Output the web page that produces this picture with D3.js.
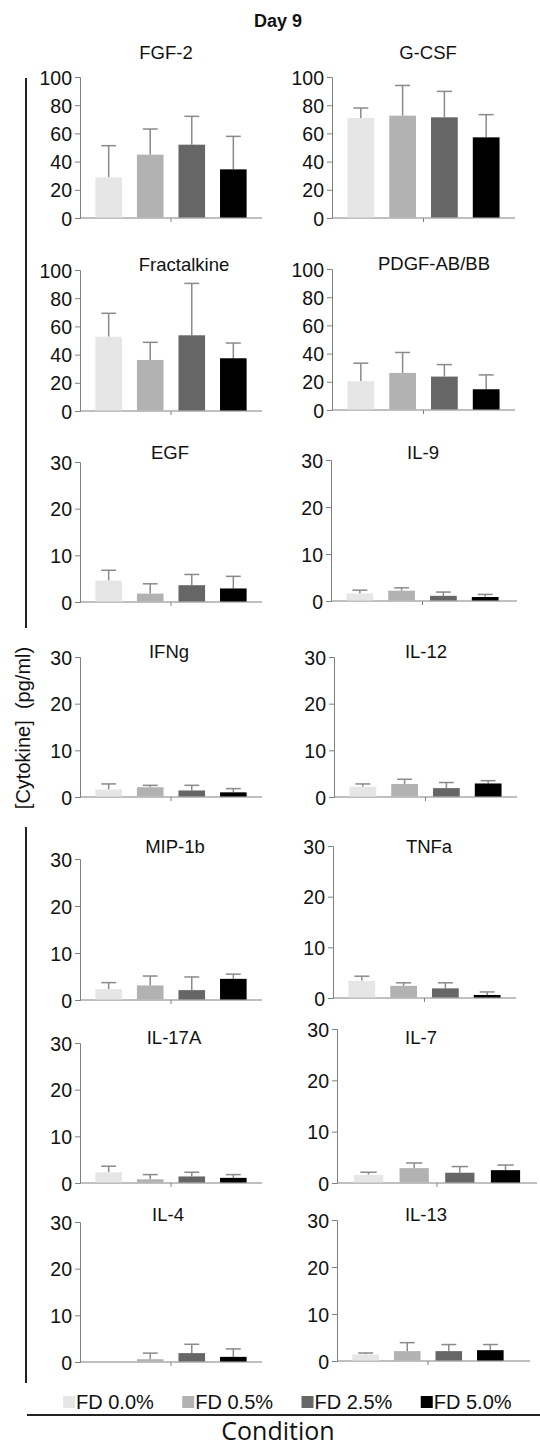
<!DOCTYPE html>
<html>
<head>
<meta charset="utf-8">
<script src="https://cdn.jsdelivr.net/npm/d3@7"></script>
<style>
  body { margin: 0; background: #fff; }
  text { font-family: "Liberation Sans", Arial, sans-serif; fill: #111; }
</style>
</head>
<body>
<div id="chart"></div>
<script>
// values (pg/ml), bar height and upper error bar length
const conditions = ["FD 0.0%", "FD 0.5%", "FD 2.5%", "FD 5.0%"];
const cytokines = ["FGF-2", "G-CSF", "Fractalkine", "PDGF-AB/BB", "EGF", "IL-9", "IFNg",
  "IL-12", "MIP-1b", "TNFa", "IL-17A", "IL-7", "IL-4", "IL-13"];
const means = [
  [28.8, 44.9, 52.0, 34.5],
  [70.9, 72.6, 71.4, 57.2],
  [52.7, 36.2, 53.7, 37.4],
  [20.4, 26.3, 23.7, 14.7],
  [4.6, 1.8, 3.6, 2.9],
  [1.6, 2.2, 1.1, 0.85],
  [1.6, 2.1, 1.4, 1.0],
  [2.2, 2.8, 1.9, 2.9],
  [2.3, 3.1, 2.1, 4.5],
  [3.4, 2.4, 1.9, 0.6],
  [2.3, 0.8, 1.4, 1.1],
  [1.6, 2.9, 2.0, 2.5],
  [0, 0.6, 1.9, 1.1],
  [1.4, 2.1, 2.1, 2.3]
];
const errors = [
  [22.5, 18.2, 20.1, 23.4],
  [7.1, 21.4, 18.4, 16.1],
  [16.6, 12.5, 36.8, 10.8],
  [12.8, 14.5, 8.5, 10.2],
  [2.2, 2.1, 2.3, 2.6],
  [0.7, 0.6, 0.8, 0.55],
  [1.2, 0.4, 1.1, 0.8],
  [0.6, 1.0, 1.2, 0.6],
  [1.4, 2.0, 2.8, 1.0],
  [0.9, 0.6, 1.1, 0.6],
  [1.3, 1.0, 0.9, 0.7],
  [0.5, 1.0, 1.2, 1.0],
  [0, 1.3, 1.9, 1.7],
  [0.3, 1.8, 1.4, 1.2]
];
const yMax = [100, 100, 100, 100, 30, 30, 30, 30, 30, 30, 30, 30, 30, 30];
const ticks100 = [0, 20, 40, 60, 80, 100];
const ticks30 = [0, 10, 20, 30];
const barColors = ["#e6e6e6", "#b2b2b2", "#666666", "#000000"];

// panel placement on the page
const layout = [
  { x0: 80, bw: 182, end: 262, top: 77, zero: 218, tx: 166, ty: 59 },
  { x0: 332, bw: 183, end: 515, top: 77, zero: 218, tx: 428, ty: 59 },
  { x0: 80, bw: 182, end: 262, top: 270, zero: 411, tx: 184, ty: 271 },
  { x0: 332, bw: 183, end: 515, top: 269, zero: 410, tx: 434, ty: 270 },
  { x0: 80, bw: 182, end: 262, top: 462, zero: 602, tx: 170, ty: 459 },
  { x0: 331, bw: 183, end: 517, top: 460, zero: 601, tx: 423, ty: 459 },
  { x0: 80, bw: 182, end: 262, top: 657, zero: 797, tx: 169, ty: 658 },
  { x0: 334, bw: 183, end: 517, top: 657, zero: 797, tx: 426, ty: 658 },
  { x0: 80, bw: 182, end: 262, top: 859, zero: 1000, tx: 175, ty: 853 },
  { x0: 333, bw: 183, end: 516, top: 846, zero: 998, tx: 429, ty: 853 },
  { x0: 80, bw: 182, end: 262, top: 1043, zero: 1183, tx: 174, ty: 1044 },
  { x0: 337, bw: 200, end: 537, top: 1029, zero: 1183, tx: 421, ty: 1044 },
  { x0: 80, bw: 182, end: 262, top: 1222, zero: 1362, tx: 168, ty: 1221 },
  { x0: 337, bw: 182, end: 530, top: 1220, zero: 1361, tx: 426, ty: 1221 }
];

const width = 540, height = 1448;
const axisColor = "#808080";

const svg = d3.select("#chart").append("svg")
  .attr("width", width)
  .attr("height", height);

svg.append("text")
  .attr("x", 278).attr("y", 27)
  .attr("text-anchor", "middle")
  .style("font-weight", "bold")
  .style("font-size", "18px")
  .text("Day 9");

cytokines.forEach((name, i) => {
  const L = layout[i];
  const g = svg.append("g");

  const x = d3.scaleBand()
    .domain(conditions)
    .range([L.x0, L.x0 + L.bw])
    .paddingInner(0.36)
    .paddingOuter(0.37);

  const y = d3.scaleLinear()
    .domain([0, yMax[i]])
    .range([L.zero, L.top]);

  const yAxis = g.append("g")
    .attr("transform", `translate(${L.x0},0)`)
    .call(d3.axisLeft(y).tickValues(yMax[i] === 100 ? ticks100 : ticks30).tickSize(5).tickPadding(3));
  yAxis.select(".domain").attr("stroke", axisColor);
  yAxis.selectAll(".tick line").attr("stroke", axisColor);
  yAxis.selectAll(".tick text")
    .style("font-size", "19.5px")
    .attr("fill", "#111")
    .attr("dy", "0.36em");

  // x baseline with single centre tick
  g.append("line")
    .attr("x1", L.x0).attr("x2", L.end)
    .attr("y1", L.zero).attr("y2", L.zero)
    .attr("stroke", axisColor);
  const mid = L.x0 + L.bw / 2;
  g.append("line")
    .attr("x1", mid).attr("x2", mid)
    .attr("y1", L.zero).attr("y2", L.zero + 4)
    .attr("stroke", axisColor);

  const rows = conditions.map((c, j) => ({ c: c, v: means[i][j], e: errors[i][j], col: barColors[j] }));

  // error bars (upper only), drawn behind bars
  const eb = g.selectAll(".err").data(rows.filter(d => d.e > 0)).enter().append("g");
  eb.append("line")
    .attr("x1", d => x(d.c) + x.bandwidth() / 2)
    .attr("x2", d => x(d.c) + x.bandwidth() / 2)
    .attr("y1", d => y(d.v))
    .attr("y2", d => y(d.v + d.e))
    .attr("stroke", "#8a8a8a").attr("stroke-width", 1.5);
  eb.append("line")
    .attr("x1", d => x(d.c) + x.bandwidth() * 0.22)
    .attr("x2", d => x(d.c) + x.bandwidth() * 0.78)
    .attr("y1", d => y(d.v + d.e))
    .attr("y2", d => y(d.v + d.e))
    .attr("stroke", "#8a8a8a").attr("stroke-width", 1.5);

  g.selectAll(".bar").data(rows).enter().append("rect")
    .attr("x", d => x(d.c))
    .attr("width", x.bandwidth())
    .attr("y", d => y(d.v))
    .attr("height", d => L.zero - y(d.v) - 0.5)
    .attr("fill", d => d.col);

  g.append("text")
    .attr("x", L.tx).attr("y", L.ty)
    .attr("text-anchor", "middle")
    .style("font-size", "18.5px")
    .text(name);
});

// left bracket with the shared y label
svg.append("line").attr("x1", 26).attr("x2", 26).attr("y1", 78).attr("y2", 628)
  .attr("stroke", "#222").attr("stroke-width", 2);
svg.append("line").attr("x1", 26).attr("x2", 26).attr("y1", 827).attr("y2", 1383)
  .attr("stroke", "#222").attr("stroke-width", 2);
svg.append("text")
  .attr("transform", "translate(30,728) rotate(-90)")
  .attr("text-anchor", "middle")
  .style("font-size", "20px")
  .style("white-space", "pre")
  .text("[Cytokine]  (pg/ml)");

// legend
const lx = d3.scaleBand().domain(conditions).range([63, 540]);
const leg = svg.selectAll(".leg").data(conditions).enter().append("g")
  .attr("transform", d => `translate(${lx(d)},1402)`);
leg.append("rect")
  .attr("x", 0).attr("y", -6).attr("width", 12).attr("height", 12)
  .attr("fill", (d, j) => barColors[j]);
leg.append("text")
  .attr("x", 13).attr("y", 6.5)
  .style("font-size", "20px")
  .text(d => d);

svg.append("line").attr("x1", 27).attr("x2", 540).attr("y1", 1415).attr("y2", 1415)
  .attr("stroke", "#222").attr("stroke-width", 2);
svg.append("text")
  .attr("x", 278).attr("y", 1440)
  .attr("text-anchor", "middle")
  .style("font-family", "'Open Sans', sans-serif")
  .style("font-size", "25px")
  .text("Condition");
</script>
</body>
</html>
